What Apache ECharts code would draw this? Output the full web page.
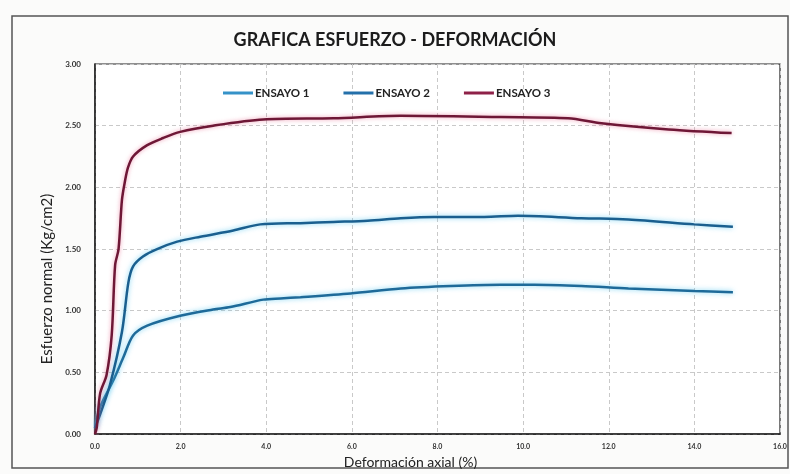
<!DOCTYPE html>
<html>
<head>
<meta charset="utf-8">
<title>Grafica esfuerzo - deformación</title>
<script src="https://cdn.jsdelivr.net/npm/echarts@6/dist/echarts.min.js"></script>
<style>
  html, body { margin: 0; padding: 0; background: #f7f7f5; }
  #chart { width: 790px; height: 474px; }
</style>
</head>
<body>
<div id="chart"></div>
<script>
// Deformación axial (%) vs esfuerzo normal (Kg/cm2), three test runs
const seriesNames = ['ENSAYO 1', 'ENSAYO 2', 'ENSAYO 3'];

const ensayo1 = [
  [0.00, 0.05], [0.12, 0.22], [0.42, 0.43], [0.66, 0.62], [0.89, 0.80],
  [1.22, 0.88], [1.99, 0.96], [2.76, 1.01], [3.16, 1.03], [3.93, 1.09],
  [4.33, 1.10], [4.80, 1.11], [5.97, 1.14], [7.14, 1.18], [8.31, 1.20],
  [9.48, 1.21], [10.26, 1.21], [11.36, 1.20], [12.46, 1.18], [14.00, 1.16],
  [14.90, 1.15]
];

const ensayo2 = [
  [0.00, 0.05], [0.12, 0.16], [0.35, 0.40], [0.63, 0.83], [0.78, 1.23],
  [0.89, 1.36], [1.12, 1.44], [1.45, 1.50], [1.92, 1.56], [2.46, 1.60],
  [3.23, 1.65], [3.86, 1.70], [4.80, 1.71], [5.57, 1.72], [6.37, 1.73],
  [7.14, 1.75], [7.92, 1.76], [9.09, 1.76], [9.88, 1.77], [11.36, 1.75],
  [12.46, 1.74], [14.00, 1.70], [14.90, 1.68]
];

const ensayo3 = [
  [0.00, 0.00], [0.04, 0.05], [0.12, 0.33], [0.27, 0.48], [0.39, 0.80],
  [0.47, 1.37], [0.55, 1.50], [0.63, 1.90], [0.70, 2.05], [0.77, 2.16],
  [0.89, 2.25], [1.21, 2.34], [1.59, 2.40], [1.99, 2.45], [2.76, 2.50],
  [3.93, 2.55], [5.57, 2.56], [7.14, 2.58], [9.48, 2.57], [11.05, 2.56],
  [11.83, 2.52], [13.40, 2.47], [14.87, 2.44]
];

const xTicks = ['0.0', '2.0', '4.0', '6.0', '8.0', '10.0', '12.0', '14.0', '16.0'];
const yTicks = ['0.00', '0.50', '1.00', '1.50', '2.00', '2.50', '3.00'];

const chart = echarts.init(document.getElementById('chart'), null, { renderer: 'canvas' });

const gridLine = { show: true, lineStyle: { color: '#c9c9c9', width: 1, type: [4, 3] } };

chart.setOption({
  backgroundColor: '#fbfbfa',
  animation: false,
  title: {
    text: 'GRAFICA ESFUERZO - DEFORMACIÓN',
    left: 'center',
    top: 26,
    textStyle: { fontFamily: 'Lato', fontWeight: 'bold', fontSize: 18, color: '#1c1c1c' }
  },
  legend: {
    data: seriesNames,
    left: 218,
    top: 82,
    itemWidth: 30,
    itemHeight: 3,
    itemGap: 34,
    icon: 'rect',
    textStyle: { fontFamily: 'Lato', fontWeight: 'bold', fontSize: 11.5, color: '#222', padding: [0, 0, 0, -3] }
  },
  grid: {
    left: 95, top: 64, right: 10, bottom: 37,
    show: true, borderColor: '#222', borderWidth: 1.2, backgroundColor: '#ffffff'
  },
  graphic: [{
    type: 'rect',
    shape: { x: 12, y: 16, width: 776, height: 452 },
    style: { fill: 'none', stroke: '#555', lineWidth: 1.5 },
    z: -1
  }],
  xAxis: {
    type: 'value',
    min: 0, max: 16, interval: 2,
    name: 'Deformación axial (%)',
    nameLocation: 'middle',
    nameGap: 16,
    nameTextStyle: { fontFamily: 'Lato', fontSize: 14, color: '#222', padding: [0, 54, 0, 0] },
    axisLine: { show: true, lineStyle: { color: '#222', width: 1.5 } },
    axisTick: { show: false },
    axisLabel: {
      margin: 9,
      fontFamily: 'Lato', fontWeight: 'bold', fontSize: 7, color: '#333',
      formatter: v => xTicks[Math.round(v / 2)]
    },
    splitLine: gridLine
  },
  yAxis: {
    type: 'value',
    min: 0, max: 3, interval: 0.5,
    name: 'Esfuerzo normal (Kg/cm2)',
    nameLocation: 'middle',
    nameGap: 38,
    nameRotate: 90,
    nameTextStyle: { fontFamily: 'Lato', fontSize: 15, color: '#222', padding: [0, 60, 0, 0] },
    axisLine: { show: true, lineStyle: { color: '#222', width: 1.5 } },
    axisTick: { show: false },
    axisLabel: {
      margin: 14,
      fontFamily: 'Lato', fontWeight: 'bold', fontSize: 8, color: '#333',
      formatter: v => yTicks[Math.round(v * 2)]
    },
    splitLine: gridLine
  },
  series: [
    {
      name: seriesNames[0], type: 'line', data: ensayo1, smooth: 0.3,
      showSymbol: false, color: '#3592c8',
      lineStyle: { width: 2.5, color: '#1e6a99', shadowColor: 'rgba(90,200,240,0.8)', shadowBlur: 5 }
    },
    {
      name: seriesNames[1], type: 'line', data: ensayo2, smooth: 0.3,
      showSymbol: false, color: '#2470aa',
      lineStyle: { width: 2.5, color: '#1a5f8f', shadowColor: 'rgba(90,200,240,0.8)', shadowBlur: 5 }
    },
    {
      name: seriesNames[2], type: 'line', data: ensayo3, smooth: 0.3,
      showSymbol: false, color: '#8e2148',
      lineStyle: { width: 2.5, color: '#6e1736', shadowColor: 'rgba(230,90,130,0.6)', shadowBlur: 4 }
    }
  ]
});
</script>
</body>
</html>
